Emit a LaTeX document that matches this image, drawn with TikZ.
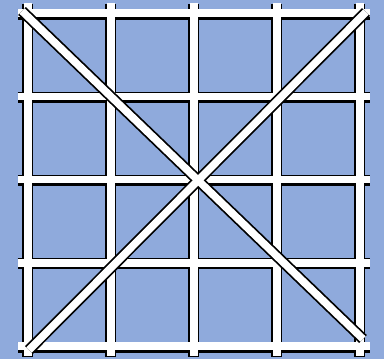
\documentclass[tikz,border=0pt]{standalone}
\usetikzlibrary{calc}
\definecolor{paneBlue}{HTML}{8FAADC}
\tikzset{
  barShadow/.style={draw=black, line width=11pt, shift={(-0.5,1)}},
  barFace/.style={draw=white, line width=7.5pt},
}

\begin{document}
\begin{tikzpicture}[x=1pt,y=-1pt]
\fill[paneBlue] (0,0) rectangle (384,359);
\useasboundingbox (0,0) rectangle (384,359);
% ends of the two diagonals
\coordinate (tl) at (22,11);
\coordinate (br) at (363,339);
\coordinate (bl) at (29,350);
\coordinate (tr) at (366,12);
% grid
\foreach \s in {barShadow,barFace} {
  \foreach \i in {0,...,4} {
    \draw[\s] (28+83*\i,3) -- (28+83*\i,356);
    \draw[\s] (18,13+83.25*\i) -- (370,13+83.25*\i);
  }
}
% diagonals
\foreach \s in {barShadow,barFace} {
  \draw[\s] (tl) -- (br);
  \draw[\s] (bl) -- (tr);
}
\end{tikzpicture}
\end{document}
